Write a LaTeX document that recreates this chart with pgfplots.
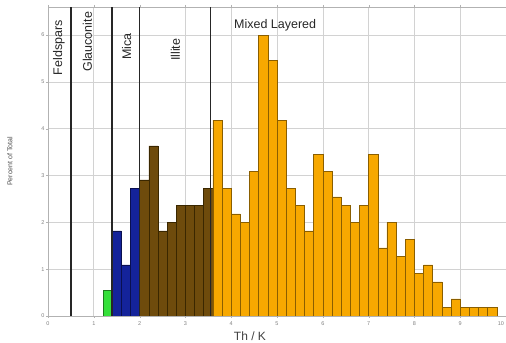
\documentclass[border=0pt]{standalone}
\usepackage{pgfplots}
\pgfplotsset{compat=1.18}
\usepackage{fontspec}
\setmainfont{Liberation Sans}
\definecolor{greenbar}{HTML}{35E03A}
\definecolor{greenedge}{HTML}{1E7A1E}
\definecolor{bluebar}{HTML}{14239A}
\definecolor{blueedge}{HTML}{0A1050}
\definecolor{brownbar}{HTML}{6E4B0C}
\definecolor{brownedge}{HTML}{3A2700}
\definecolor{orangebar}{HTML}{F7A800}
\definecolor{orangeedge}{HTML}{8A5E00}
\begin{document}
\begin{tikzpicture}
\begin{axis}[
  scale only axis, width=458pt, height=309pt,
  xmin=0, xmax=10, ymin=0, ymax=6.6,
  xtick={0,...,9}, ytick={0,...,6},
  extra x ticks={10},
  extra x tick style={grid=none, xticklabel style={anchor=north east, xshift=1.5pt}},
  grid=major, major grid style={draw=gray!35, line width=0.6pt},
  axis line style={draw=gray!60, line width=0.6pt},
  tick style={draw=gray!60}, tick align=outside, major tick length=2pt,
  ticklabel style={font=\fontsize{5.5}{6}\selectfont, text=gray},
  yticklabel style={xshift=2pt},
  /pgf/number format/assume math mode=true,
  xlabel={Th / K},
  xlabel style={font=\fontsize{12}{14}\selectfont, text=black!75, at={(axis description cs:0.441,0)}, anchor=center, yshift=-20pt},
  ylabel={Percent of Total},
  ylabel style={font=\fontsize{7}{8}\selectfont, text=black!70, at={(axis description cs:-0.083,0.5)}, anchor=center},
]
\coordinate (bl) at (rel axis cs:0,0);
\coordinate (tr) at (rel axis cs:1,1);
\addplot[ybar, bar width=0.2, bar shift=0pt, fill=greenbar, draw=greenedge, line width=0.5pt] coordinates {(1.3,0.545)};
\addplot[ybar, bar width=0.2, bar shift=0pt, fill=bluebar, draw=blueedge, line width=0.5pt] coordinates {(1.5,1.818) (1.7,1.091) (1.9,2.727)};
\addplot[ybar, bar width=0.2, bar shift=0pt, fill=brownbar, draw=brownedge, line width=0.5pt] coordinates {(2.1,2.909) (2.3,3.636) (2.5,1.818) (2.7,2.0) (2.9,2.364) (3.1,2.364) (3.3,2.364) (3.5,2.727)};
\addplot[ybar, bar width=0.2, bar shift=0pt, fill=orangebar, draw=orangeedge, line width=0.5pt] coordinates {
(3.7,4.182) (3.9,2.727) (4.1,2.182) (4.3,2.0) (4.5,3.091) (4.7,6.0) (4.9,5.455) (5.1,4.182)
(5.3,2.727) (5.5,2.364) (5.7,1.818) (5.9,3.455) (6.1,3.091) (6.3,2.545) (6.5,2.364) (6.7,2.0)
(6.9,2.364) (7.1,3.455) (7.3,1.455) (7.5,2.0) (7.7,1.273) (7.9,1.636) (8.1,0.909) (8.3,1.091)
(8.5,0.727) (8.7,0.182) (8.9,0.364) (9.1,0.182) (9.3,0.182) (9.5,0.182) (9.7,0.182)};
\draw[black!85, line width=1.4pt] (axis cs:0.5,0) -- (axis cs:0.5,6.6);
\draw[black!85, line width=1.4pt] (axis cs:1.4,0) -- (axis cs:1.4,6.6);
\draw[black!85, line width=1.4pt] (axis cs:2.0,0) -- (axis cs:2.0,6.6);
\draw[black!85, line width=1.4pt] (axis cs:3.55,0) -- (axis cs:3.55,6.6);
\node[rotate=90, anchor=east, font=\fontsize{12.5}{14}\selectfont, text=black!85] at (axis cs:0.24,6.39) {Feldspars};
\node[rotate=90, anchor=east, font=\fontsize{12.5}{14}\selectfont, text=black!85] at (axis cs:0.86,6.57) {Glauconite};
\node[rotate=90, anchor=east, font=\fontsize{12.5}{14}\selectfont, text=black!85] at (axis cs:1.72,6.11) {Mica};
\node[rotate=90, anchor=east, font=\fontsize{12.5}{14}\selectfont, text=black!85] at (axis cs:2.78,6.0) {Illite};
\node[anchor=center, font=\fontsize{12.5}{14}\selectfont, text=black!85] at (axis cs:4.96,6.21) {Mixed Layered};
\end{axis}
\pgfresetboundingbox
\path[use as bounding box] ([xshift=-48pt,yshift=-27pt]bl) rectangle ([yshift=7pt]tr);
\end{tikzpicture}
\end{document}
